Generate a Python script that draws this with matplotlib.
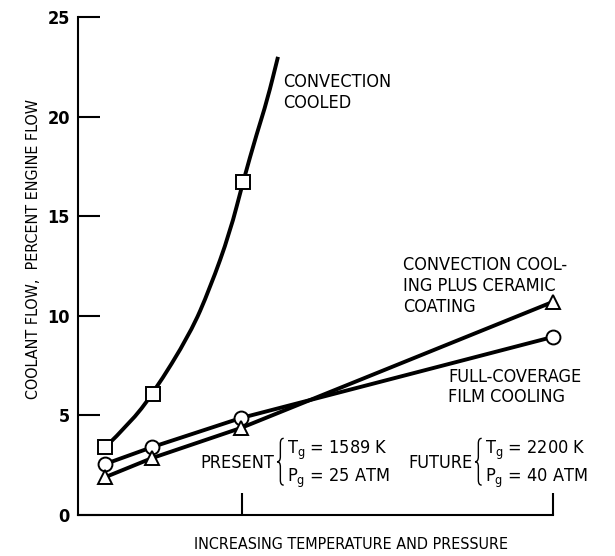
import numpy as np
import matplotlib.pyplot as plt
from matplotlib import font_manager
from matplotlib.path import Path
from matplotlib.patches import PathPatch

# x is an unlabeled "increasing temperature and pressure" scale (0..10)
x_pts = [0.57, 1.56, 3.43, 10.0]
present_x = 3.45
future_x = 10.0

# convection cooled: markers and the traced curve
sq_x = [0.57, 1.58, 3.47]
sq_y = [3.4, 6.1, 16.7]
sq_curve_x = [0.57, 1.09, 1.58, 2.36, 2.78, 3.2, 3.47, 3.77, 3.98, 4.21]
sq_curve_y = [3.4, 4.6, 6.1, 9.1, 11.4, 14.2, 16.7, 19.2, 20.8, 23.0]

film_y = [2.56, 3.41, 4.87, 8.94]     # full-coverage film cooling (circles)
ceramic_y = [1.9, 2.86, 4.37, 10.7]   # convection + ceramic coating (triangles)

yticks = [0, 5, 10, 15, 20, 25]

# pick a narrow sans if one is around
names = {f.name for f in font_manager.fontManager.ttflist}
stretches = {(f.name, f.stretch) for f in font_manager.fontManager.ttflist}
if 'Liberation Sans Narrow' in names:
    fam, stretch = 'Liberation Sans Narrow', 'normal'
elif any(n == 'DejaVu Sans' and s == 'condensed' for n, s in stretches):
    fam, stretch = 'DejaVu Sans', 'condensed'
else:
    fam, stretch = 'DejaVu Sans', 'normal'
narrow = stretch == 'condensed' or fam != 'DejaVu Sans'
k = 1.0 if narrow else 0.88   # shrink when only the wide face exists

plt.rcParams['font.family'] = [fam, 'DejaVu Sans']
plt.rcParams['font.stretch'] = stretch

fig = plt.figure(figsize=(6.15, 5.56), dpi=100)
ax = fig.add_axes([0.127, 0.0737, 0.772, 0.8957])

lw = 2.8
# smooth the traced curve with quadratic segments through midpoints
pts = np.column_stack([sq_curve_x, sq_curve_y])
verts = [pts[0]]
codes = [Path.MOVETO]
for i in range(1, len(pts) - 1):
    verts += [pts[i], (pts[i] + pts[i + 1]) / 2]
    codes += [Path.CURVE3, Path.CURVE3]
verts.append(pts[-1])
codes.append(Path.LINETO)
ax.add_patch(PathPatch(Path(verts, codes), fill=False, lw=lw, ec='black', zorder=2))

mk = dict(ms=10, mfc='white', mec='black', mew=1.4, clip_on=False, zorder=3)
ax.plot(sq_x, sq_y, ls='none', marker='s', **mk)
ax.plot(x_pts, film_y, color='black', lw=lw, marker='o', **mk)
ax.plot(x_pts, ceramic_y, color='black', lw=lw, marker='^', **mk)

ax.set_xlim(0, 10)
ax.set_ylim(0, 25)
ax.set_yticks(yticks)
ax.set_yticklabels([str(v) for v in yticks], fontsize=13, fontweight='bold')
ax.set_xticks([present_x, future_x])
ax.set_xticklabels([])
ax.tick_params(axis='both', direction='in', length=16, width=1.5, pad=6)
for s in ['top', 'right']:
    ax.spines[s].set_visible(False)
for s in ['left', 'bottom']:
    ax.spines[s].set_linewidth(1.5)

ax.set_ylabel('COOLANT FLOW,  PERCENT ENGINE FLOW', fontsize=11.5 * k)
ax.yaxis.set_label_coords(-0.078, 0.535)
ax.set_xlabel('INCREASING TEMPERATURE AND PRESSURE', fontsize=11.5 * k)
ax.xaxis.set_label_coords(0.575, -0.045)

fs = 13 * k
tk = dict(fontsize=fs, linespacing=1.2, va='top', ha='left')
ax.text(4.32, 22.2, 'CONVECTION\nCOOLED', **tk)
ax.text(6.84, 13.0, 'CONVECTION COOL-\nING PLUS CERAMIC\nCOATING', **tk)
ax.text(7.79, 7.4, 'FULL-COVERAGE\nFILM COOLING', **tk)

def brace(x, y0, y1, w=0.14):
    ym = (y0 + y1) / 2
    d = 0.25
    v = [(x + w, y1), (x + w / 2, y1), (x + w / 2, y1 - d),
         (x + w / 2, ym + d), (x + w / 2, ym), (x, ym),
         (x + w / 2, ym), (x + w / 2, ym - d),
         (x + w / 2, y0 + d), (x + w / 2, y0), (x + w, y0)]
    c = [Path.MOVETO, Path.CURVE3, Path.CURVE3,
         Path.LINETO, Path.CURVE3, Path.CURVE3,
         Path.CURVE3, Path.CURVE3,
         Path.LINETO, Path.CURVE3, Path.CURVE3]
    ax.add_patch(PathPatch(Path(v, c), fill=False, lw=1.0, ec='black'))

def condition(xb, name, t, p):
    ax.text(xb - 0.05, 2.6, name, fontsize=fs, ha='right', va='center')
    brace(xb, 1.5, 3.85)
    ax.text(xb + 0.2, 3.25, r'$\mathregular{T_g}$ = ' + t, fontsize=fs, ha='left', va='center')
    ax.text(xb + 0.2, 1.85, r'$\mathregular{P_g}$ = ' + p, fontsize=fs, ha='left', va='center')

condition(4.19, 'PRESENT', '1589 K', '25 ATM')
condition(8.36, 'FUTURE', '2200 K', '40 ATM')

fig.savefig('out.png', dpi=100)
